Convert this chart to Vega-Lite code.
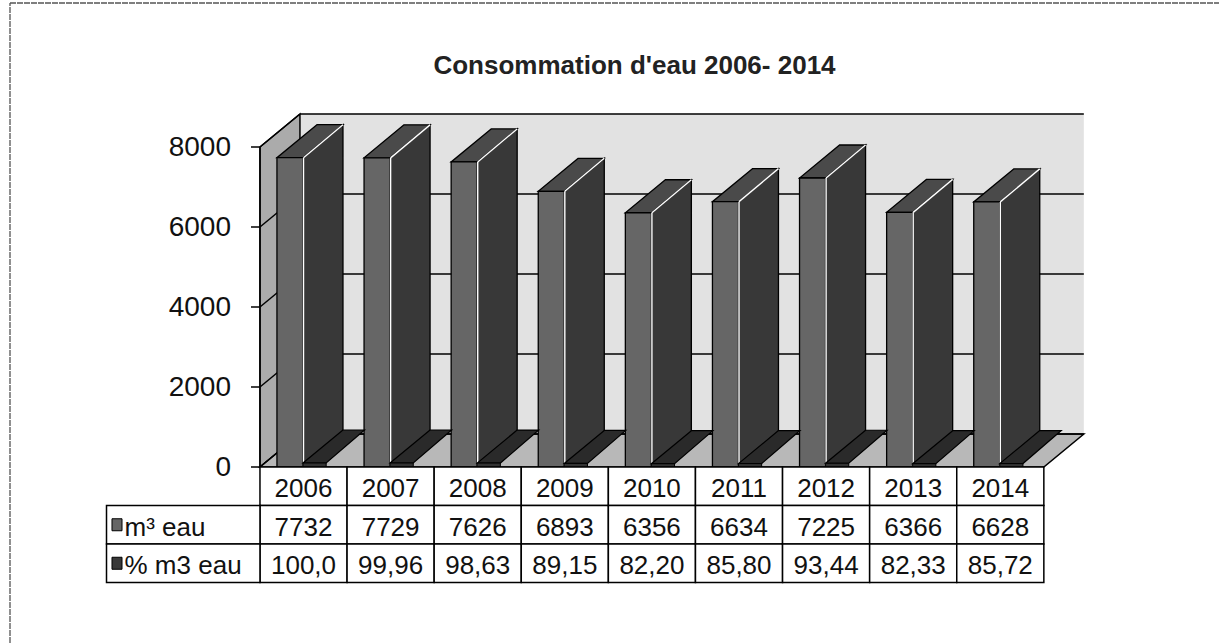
{
  "$schema": "https://vega.github.io/schema/vega-lite/v6.json",
  "width": 1209,
  "height": 640,
  "autosize": {"type": "none"},
  "padding": {"left": 10, "top": 3, "right": 0, "bottom": 0},
  "background": "#ffffff",
  "title": {
    "text": "Consommation d'eau 2006- 2014",
    "font": "Liberation Sans",
    "fontSize": 26,
    "fontWeight": "bold",
    "color": "#222222",
    "anchor": "middle",
    "frame": "group",
    "baseline": "alphabetic",
    "offset": 0,
    "dx": 20,
    "dy": 98
  },
  "config": {
    "font": "Liberation Sans",
    "view": {"stroke": null}
  },
  "datasets": {
    "annees": [
      {"annee": 2006, "m3": 7732, "pct": 100.0, "pct_txt": "100,0"},
      {"annee": 2007, "m3": 7729, "pct": 99.96, "pct_txt": "99,96"},
      {"annee": 2008, "m3": 7626, "pct": 98.63, "pct_txt": "98,63"},
      {"annee": 2009, "m3": 6893, "pct": 89.15, "pct_txt": "89,15"},
      {"annee": 2010, "m3": 6356, "pct": 82.20, "pct_txt": "82,20"},
      {"annee": 2011, "m3": 6634, "pct": 85.80, "pct_txt": "85,80"},
      {"annee": 2012, "m3": 7225, "pct": 93.44, "pct_txt": "93,44"},
      {"annee": 2013, "m3": 6366, "pct": 82.33, "pct_txt": "82,33"},
      {"annee": 2014, "m3": 6628, "pct": 85.72, "pct_txt": "85,72"}
    ],
    "graduations": [{"v": 0}, {"v": 2000}, {"v": 4000}, {"v": 6000}, {"v": 8000}],
    "series": [{"serie": "m³ eau"}, {"serie": "% m3 eau"}]
  },
  "layer": [
    {
      "data": {"name": "graduations"},
      "transform": [
        {"filter": "datum.v == 8000"},
        {"calculate": "-2.87", "as": "xa"},
        {"calculate": "11.011", "as": "xb"},
        {"calculate": "-4400", "as": "ya"},
        {"calculate": "11600", "as": "yb"}
      ],
      "layer": [
        {
          "mark": {"type": "rule", "stroke": "#555555", "strokeWidth": 1.3, "strokeDash": [6, 1]},
          "encoding": {
            "x": {"field": "xa", "type": "quantitative", "scale": {"domain": [-2.87, 11.011], "nice": false, "zero": false}, "axis": null},
            "x2": {"field": "xb"},
            "y": {"field": "yb", "type": "quantitative", "scale": {"domain": [-4400, 11600], "nice": false, "zero": false}, "axis": null}
          }
        },
        {
          "mark": {"type": "rule", "stroke": "#555555", "strokeWidth": 1.3, "strokeDash": [6, 1]},
          "encoding": {
            "x": {"field": "xa", "type": "quantitative", "scale": {"domain": [-2.87, 11.011], "nice": false, "zero": false}, "axis": null},
            "y": {"field": "ya", "type": "quantitative", "scale": {"domain": [-4400, 11600], "nice": false, "zero": false}, "axis": null},
            "y2": {"field": "yb"}
          }
        }
      ]
    },
    {
      "data": {"name": "graduations"},
      "transform": [
        {"filter": "datum.v == 8000"},
        {"calculate": "0.459", "as": "xa"},
        {"calculate": "9.459", "as": "xb"},
        {"calculate": "825", "as": "ya"},
        {"calculate": "datum.v + 825", "as": "yb"}
      ],
      "mark": {"type": "rect", "fill": "#e2e2e2"},
      "encoding": {
        "x": {"field": "xa", "type": "quantitative", "scale": {"domain": [-2.87, 11.011], "nice": false, "zero": false}, "axis": null},
        "x2": {"field": "xb"},
        "y": {"field": "ya", "type": "quantitative", "scale": {"domain": [-4400, 11600], "nice": false, "zero": false}, "axis": null},
        "y2": {"field": "yb"}
      }
    },
    {
      "data": {"name": "graduations"},
      "transform": [
        {"filter": "datum.v == 8000"},
        {"calculate": "[0, 0.459]", "as": "ax"},
        {"calculate": "[datum.v, datum.v + 825]", "as": "ay"},
        {"calculate": "[0, 825]", "as": "ay2"},
        {"flatten": ["ax", "ay", "ay2"]}
      ],
      "mark": {"type": "area", "orient": "vertical", "fill": "#ababab", "stroke": "#000000", "strokeWidth": 1.5, "opacity": 1},
      "encoding": {
        "x": {"field": "ax", "type": "quantitative", "scale": {"domain": [-2.87, 11.011], "nice": false, "zero": false}, "axis": null},
        "y": {"field": "ay", "type": "quantitative", "stack": null, "scale": {"domain": [-4400, 11600], "nice": false, "zero": false}, "axis": null},
        "y2": {"field": "ay2"}
      }
    },
    {
      "data": {"name": "graduations"},
      "transform": [
        {"filter": "datum.v == 8000"},
        {"calculate": "[0, 825]", "as": "fy"},
        {"calculate": "[0, 0.459]", "as": "fx"},
        {"calculate": "[9, 9.459]", "as": "fx2"},
        {"flatten": ["fy", "fx", "fx2"]}
      ],
      "mark": {"type": "area", "orient": "horizontal", "fill": "#b8b8b8", "stroke": "#000000", "strokeWidth": 1.5, "opacity": 1},
      "encoding": {
        "y": {"field": "fy", "type": "quantitative", "scale": {"domain": [-4400, 11600], "nice": false, "zero": false}, "axis": null},
        "x": {"field": "fx", "type": "quantitative", "stack": null, "scale": {"domain": [-2.87, 11.011], "nice": false, "zero": false}, "axis": null},
        "x2": {"field": "fx2"}
      }
    },
    {
      "data": {"name": "graduations"},
      "transform": [
        {"calculate": "0.459", "as": "xa"},
        {"calculate": "9.459", "as": "xb"},
        {"calculate": "datum.v + 825", "as": "yg"}
      ],
      "mark": {"type": "rule", "stroke": "#000000", "strokeWidth": 1.5},
      "encoding": {
        "x": {"field": "xa", "type": "quantitative", "scale": {"domain": [-2.87, 11.011], "nice": false, "zero": false}, "axis": null},
        "x2": {"field": "xb"},
        "y": {"field": "yg", "type": "quantitative", "scale": {"domain": [-4400, 11600], "nice": false, "zero": false}, "axis": null}
      }
    },
    {
      "data": {"name": "graduations"},
      "transform": [
        {"calculate": "0", "as": "xa"},
        {"calculate": "0.459", "as": "xb"},
        {"calculate": "-0.103", "as": "xt"},
        {"calculate": "-0.333", "as": "xl"},
        {"calculate": "datum.v + 825", "as": "yg"}
      ],
      "layer": [
        {
          "mark": {"type": "rule", "stroke": "#000000", "strokeWidth": 1.5},
          "encoding": {
            "x": {"field": "xa", "type": "quantitative", "scale": {"domain": [-2.87, 11.011], "nice": false, "zero": false}, "axis": null},
            "x2": {"field": "xb"},
            "y": {"field": "v", "type": "quantitative", "scale": {"domain": [-4400, 11600], "nice": false, "zero": false}, "axis": null},
            "y2": {"field": "yg"}
          }
        },
        {
          "mark": {"type": "rule", "stroke": "#000000", "strokeWidth": 1.5},
          "encoding": {
            "x": {"field": "xt", "type": "quantitative", "scale": {"domain": [-2.87, 11.011], "nice": false, "zero": false}, "axis": null},
            "x2": {"field": "xa"},
            "y": {"field": "v", "type": "quantitative", "scale": {"domain": [-4400, 11600], "nice": false, "zero": false}, "axis": null}
          }
        },
        {
          "mark": {"type": "text", "align": "right", "baseline": "middle", "fontSize": 28, "font": "Liberation Sans", "color": "#111111", "dy": 1},
          "encoding": {
            "x": {"field": "xl", "type": "quantitative", "scale": {"domain": [-2.87, 11.011], "nice": false, "zero": false}, "axis": null},
            "y": {"field": "v", "type": "quantitative", "scale": {"domain": [-4400, 11600], "nice": false, "zero": false}, "axis": null},
            "text": {"field": "v", "type": "quantitative", "format": "d"}
          }
        }
      ]
    },
    {
      "data": {"name": "graduations"},
      "transform": [
        {"filter": "datum.v == 8000"},
        {"calculate": "0", "as": "xa"},
        {"calculate": "0", "as": "z"}
      ],
      "mark": {"type": "rule", "stroke": "#000000", "strokeWidth": 1.5},
      "encoding": {
        "x": {"field": "xa", "type": "quantitative", "scale": {"domain": [-2.87, 11.011], "nice": false, "zero": false}, "axis": null},
        "y": {"field": "v", "type": "quantitative", "scale": {"domain": [-4400, 11600], "nice": false, "zero": false}, "axis": null},
        "y2": {"field": "z"}
      }
    },
    {
      "data": {"name": "annees"},
      "transform": [
        {"calculate": "datum.annee - 2006", "as": "i"},
        {"calculate": "[datum.i + 0.494, datum.i + 0.953]", "as": "sx"},
        {"calculate": "[datum.m3, datum.m3 + 825]", "as": "sy"},
        {"calculate": "[0, 825]", "as": "sy2"},
        {"flatten": ["sx", "sy", "sy2"]}
      ],
      "mark": {"type": "area", "orient": "vertical", "fill": "#383838", "stroke": "#000000", "strokeWidth": 1.3, "opacity": 1},
      "encoding": {
        "x": {"field": "sx", "type": "quantitative", "scale": {"domain": [-2.87, 11.011], "nice": false, "zero": false}, "axis": null},
        "y": {"field": "sy", "type": "quantitative", "stack": null, "scale": {"domain": [-4400, 11600], "nice": false, "zero": false}, "axis": null},
        "y2": {"field": "sy2"},
        "detail": {"field": "annee", "type": "nominal"}
      }
    },
    {
      "data": {"name": "annees"},
      "transform": [
        {"calculate": "datum.annee - 2006", "as": "i"},
        {"calculate": "[datum.m3, datum.m3 + 825]", "as": "ty"},
        {"calculate": "[datum.i + 0.195, datum.i + 0.654]", "as": "tx"},
        {"calculate": "[datum.i + 0.494, datum.i + 0.953]", "as": "tx2"},
        {"flatten": ["ty", "tx", "tx2"]}
      ],
      "mark": {"type": "area", "orient": "horizontal", "fill": "#4a4a4a", "stroke": "#000000", "strokeWidth": 1.3, "opacity": 1},
      "encoding": {
        "y": {"field": "ty", "type": "quantitative", "scale": {"domain": [-4400, 11600], "nice": false, "zero": false}, "axis": null},
        "x": {"field": "tx", "type": "quantitative", "stack": null, "scale": {"domain": [-2.87, 11.011], "nice": false, "zero": false}, "axis": null},
        "x2": {"field": "tx2"},
        "detail": {"field": "annee", "type": "nominal"}
      }
    },
    {
      "data": {"name": "annees"},
      "transform": [
        {"calculate": "datum.annee - 2006 + 0.195", "as": "xl"},
        {"calculate": "datum.annee - 2006 + 0.494", "as": "xr"},
        {"calculate": "0", "as": "z"}
      ],
      "mark": {"type": "rect", "fill": "#666666", "stroke": "#000000", "strokeWidth": 1.3},
      "encoding": {
        "x": {"field": "xl", "type": "quantitative", "scale": {"domain": [-2.87, 11.011], "nice": false, "zero": false}, "axis": null},
        "x2": {"field": "xr"},
        "y": {"field": "m3", "type": "quantitative", "scale": {"domain": [-4400, 11600], "nice": false, "zero": false}, "axis": null},
        "y2": {"field": "z"}
      }
    },
    {
      "data": {"name": "annees"},
      "transform": [
        {"calculate": "datum.annee - 2006 + 0.5", "as": "xr"},
        {"calculate": "datum.annee - 2006 + 0.953", "as": "xb"},
        {"calculate": "0", "as": "z"},
        {"calculate": "datum.m3 + 825", "as": "yb"}
      ],
      "layer": [
        {
          "mark": {"type": "rule", "stroke": "#ffffff", "strokeWidth": 1.4},
          "encoding": {
            "x": {"field": "xr", "type": "quantitative", "scale": {"domain": [-2.87, 11.011], "nice": false, "zero": false}, "axis": null},
            "y": {"field": "m3", "type": "quantitative", "scale": {"domain": [-4400, 11600], "nice": false, "zero": false}, "axis": null},
            "y2": {"field": "z"}
          }
        },
        {
          "mark": {"type": "rule", "stroke": "#ffffff", "strokeWidth": 1.4},
          "encoding": {
            "x": {"field": "xr", "type": "quantitative", "scale": {"domain": [-2.87, 11.011], "nice": false, "zero": false}, "axis": null},
            "x2": {"field": "xb"},
            "y": {"field": "m3", "type": "quantitative", "scale": {"domain": [-4400, 11600], "nice": false, "zero": false}, "axis": null},
            "y2": {"field": "yb"}
          }
        }
      ]
    },
    {
      "data": {"name": "annees"},
      "transform": [
        {"calculate": "datum.annee - 2006", "as": "i"},
        {"calculate": "[datum.pct, datum.pct + 825]", "as": "ty"},
        {"calculate": "[datum.i + 0.494, datum.i + 0.953]", "as": "tx"},
        {"calculate": "[datum.i + 0.76, datum.i + 1.2]", "as": "tx2"},
        {"flatten": ["ty", "tx", "tx2"]}
      ],
      "mark": {"type": "area", "orient": "horizontal", "fill": "#2a2a2a", "stroke": "#000000", "strokeWidth": 1.2, "opacity": 1},
      "encoding": {
        "y": {"field": "ty", "type": "quantitative", "scale": {"domain": [-4400, 11600], "nice": false, "zero": false}, "axis": null},
        "x": {"field": "tx", "type": "quantitative", "stack": null, "scale": {"domain": [-2.87, 11.011], "nice": false, "zero": false}, "axis": null},
        "x2": {"field": "tx2"},
        "detail": {"field": "annee", "type": "nominal"}
      }
    },
    {
      "data": {"name": "annees"},
      "transform": [
        {"calculate": "datum.annee - 2006 + 0.494", "as": "xl"},
        {"calculate": "datum.annee - 2006 + 0.76", "as": "xr"},
        {"calculate": "0", "as": "z"}
      ],
      "mark": {"type": "rect", "fill": "#333333", "stroke": "#000000", "strokeWidth": 1},
      "encoding": {
        "x": {"field": "xl", "type": "quantitative", "scale": {"domain": [-2.87, 11.011], "nice": false, "zero": false}, "axis": null},
        "x2": {"field": "xr"},
        "y": {"field": "pct", "type": "quantitative", "scale": {"domain": [-4400, 11600], "nice": false, "zero": false}, "axis": null},
        "y2": {"field": "z"}
      }
    },
    {
      "data": {"name": "annees"},
      "transform": [
        {"calculate": "datum.annee - 2006", "as": "i"},
        {"calculate": "toString(datum.annee)", "as": "c0"},
        {"calculate": "toString(datum.m3)", "as": "c1"},
        {"fold": ["c0", "c1", "pct_txt"], "as": ["ligne", "txt"]},
        {"calculate": "indexof(['c0', 'c1', 'pct_txt'], datum.ligne)", "as": "r"},
        {"calculate": "datum.i + 1", "as": "x2"},
        {"calculate": "datum.i + 0.5", "as": "xc"},
        {"calculate": "-962.5 * datum.r", "as": "y1"},
        {"calculate": "-962.5 * (datum.r + 1)", "as": "y2"},
        {"calculate": "-962.5 * (datum.r + 0.5)", "as": "yc"}
      ],
      "layer": [
        {
          "mark": {"type": "rect", "fill": "#ffffff", "stroke": "#000000", "strokeWidth": 1.5},
          "encoding": {
            "x": {"field": "i", "type": "quantitative", "scale": {"domain": [-2.87, 11.011], "nice": false, "zero": false}, "axis": null},
            "x2": {"field": "x2"},
            "y": {"field": "y1", "type": "quantitative", "scale": {"domain": [-4400, 11600], "nice": false, "zero": false}, "axis": null},
            "y2": {"field": "y2"}
          }
        },
        {
          "mark": {"type": "text", "align": "center", "baseline": "middle", "fontSize": 26, "font": "Liberation Sans", "color": "#111111", "dy": 3},
          "encoding": {
            "x": {"field": "xc", "type": "quantitative", "scale": {"domain": [-2.87, 11.011], "nice": false, "zero": false}, "axis": null},
            "y": {"field": "yc", "type": "quantitative", "scale": {"domain": [-4400, 11600], "nice": false, "zero": false}, "axis": null},
            "text": {"field": "txt", "type": "nominal"}
          }
        }
      ]
    },
    {
      "data": {"name": "series"},
      "transform": [
        {"calculate": "datum.serie == 'm³ eau' ? 1 : 2", "as": "r"},
        {"calculate": "-1.762", "as": "xa"},
        {"calculate": "0", "as": "xb"},
        {"calculate": "-1.699", "as": "sa"},
        {"calculate": "-1.584", "as": "sb"},
        {"calculate": "-1.555", "as": "tx"},
        {"calculate": "-962.5 * datum.r", "as": "y1"},
        {"calculate": "-962.5 * (datum.r + 1)", "as": "y2"},
        {"calculate": "-962.5 * (datum.r + 0.5)", "as": "yc"},
        {"calculate": "datum.yc + 150", "as": "s1"},
        {"calculate": "datum.yc - 150", "as": "s2"}
      ],
      "layer": [
        {
          "mark": {"type": "rect", "fill": "#ffffff", "stroke": "#000000", "strokeWidth": 1.5},
          "encoding": {
            "x": {"field": "xa", "type": "quantitative", "scale": {"domain": [-2.87, 11.011], "nice": false, "zero": false}, "axis": null},
            "x2": {"field": "xb"},
            "y": {"field": "y1", "type": "quantitative", "scale": {"domain": [-4400, 11600], "nice": false, "zero": false}, "axis": null},
            "y2": {"field": "y2"}
          }
        },
        {
          "mark": {"type": "rect", "stroke": "#000000", "strokeWidth": 1},
          "encoding": {
            "x": {"field": "sa", "type": "quantitative", "scale": {"domain": [-2.87, 11.011], "nice": false, "zero": false}, "axis": null},
            "x2": {"field": "sb"},
            "y": {"field": "s1", "type": "quantitative", "scale": {"domain": [-4400, 11600], "nice": false, "zero": false}, "axis": null},
            "y2": {"field": "s2"},
            "fill": {"field": "serie", "type": "nominal", "scale": {"domain": ["m³ eau", "% m3 eau"], "range": ["#666666", "#383838"]}, "legend": null}
          }
        },
        {
          "mark": {"type": "text", "align": "left", "baseline": "middle", "fontSize": 26, "font": "Liberation Sans", "color": "#111111", "dy": 3},
          "encoding": {
            "x": {"field": "tx", "type": "quantitative", "scale": {"domain": [-2.87, 11.011], "nice": false, "zero": false}, "axis": null},
            "y": {"field": "yc", "type": "quantitative", "scale": {"domain": [-4400, 11600], "nice": false, "zero": false}, "axis": null},
            "text": {"field": "serie", "type": "nominal"}
          }
        }
      ]
    }
  ]
}
